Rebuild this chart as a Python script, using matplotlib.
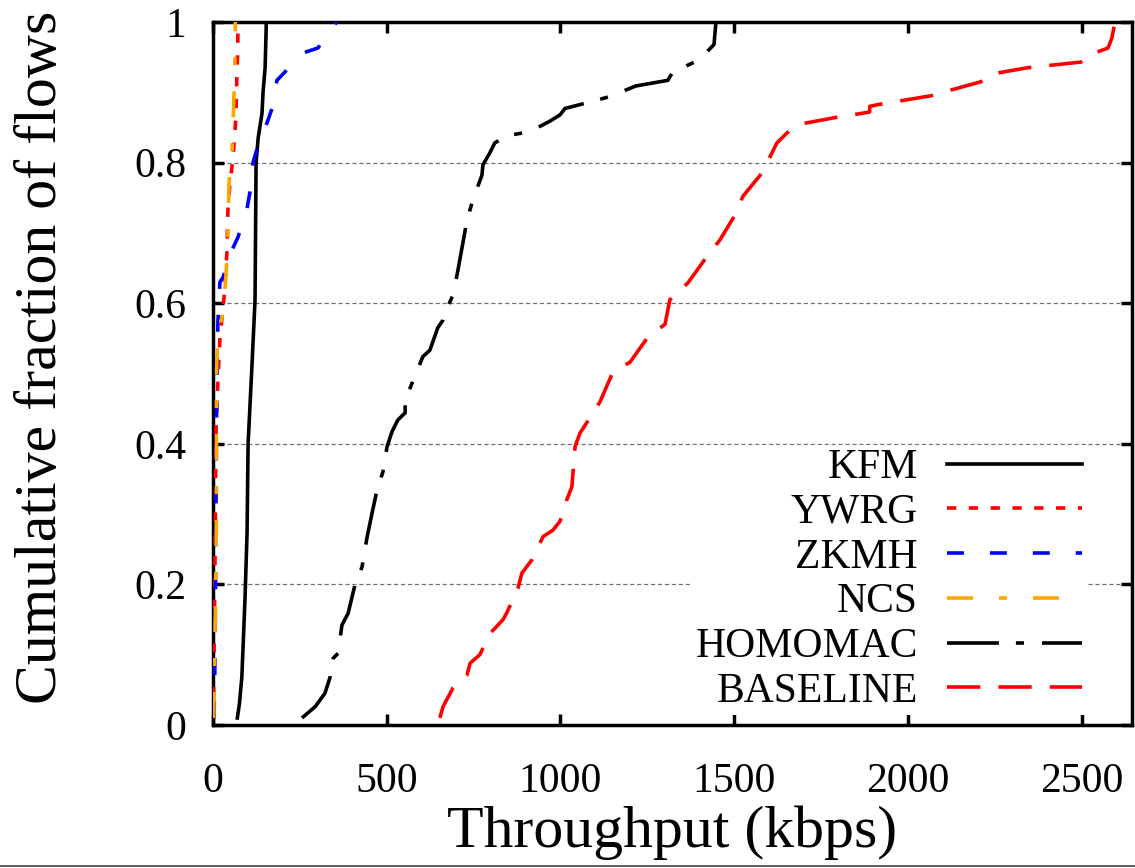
import matplotlib
matplotlib.use('Agg')
import matplotlib.pyplot as plt
from matplotlib.lines import Line2D

# CDF curves (throughput in kbps, cumulative fraction)
kfm_x = [70, 76, 83, 92, 98, 101, 112, 121, 124, 130, 141, 144, 150, 153, 153]
kfm_y = [0.01, 0.03, 0.068, 0.178, 0.273, 0.4, 0.51, 0.605, 0.8, 0.835, 0.87, 0.9, 0.935, 0.99, 1.0]

ywrg_x = [1, 3, 5, 7, 8, 10, 15, 20, 32, 35, 40, 43, 49, 58, 66, 69, 71, 72]
ywrg_y = [0.01, 0.1, 0.2, 0.3, 0.4, 0.44, 0.5, 0.55, 0.61, 0.637, 0.671, 0.733, 0.771, 0.808, 0.865, 0.93, 0.956, 1.0]

zkmh_x = [3, 6, 8, 10, 12, 14, 20, 29, 55, 72, 98, 106, 115, 127, 155, 170, 184, 213, 259, 302, 351, 355]
zkmh_y = [0.01, 0.1, 0.25, 0.43, 0.5, 0.572, 0.63, 0.637, 0.676, 0.694, 0.735, 0.757, 0.8, 0.82,
          0.856, 0.877, 0.917, 0.932, 0.956, 0.963, 0.996, 1.0]

ncs_x = [2, 5, 8, 10, 10, 14, 29, 37, 43, 46, 55, 60, 63, 64]
ncs_y = [0.01, 0.1, 0.2, 0.3, 0.5, 0.557, 0.586, 0.637, 0.69, 0.77, 0.82, 0.89, 0.94, 1.0]

homomac_x = [256, 294, 322, 337, 346, 360, 371, 389, 403, 409, 429, 443, 458, 472, 489, 501, 515,
             532, 553, 553, 576, 604, 624, 647, 662, 668, 691, 705, 731, 748, 774, 777, 797, 811,
             835, 855, 912, 970, 999, 1013, 1099, 1142, 1217, 1309, 1321, 1338, 1390, 1407, 1442,
             1447, 1448]
homomac_y = [0.01, 0.026, 0.045, 0.068, 0.095, 0.102, 0.142, 0.159, 0.188, 0.2, 0.225, 0.266, 0.302,
             0.334, 0.36, 0.396, 0.417, 0.434, 0.444, 0.462, 0.49, 0.524, 0.533, 0.565, 0.576, 0.586,
             0.612, 0.647, 0.718, 0.747, 0.782, 0.797, 0.814, 0.828, 0.835, 0.839, 0.844, 0.859,
             0.868, 0.877, 0.888, 0.894, 0.909, 0.917, 0.927, 0.932, 0.944, 0.95, 0.968, 0.997, 1.0]

baseline_x = [653, 662, 691, 731, 740, 768, 797, 835, 846, 878, 889, 918, 950, 978, 999, 1018, 1033,
              1042, 1056, 1085, 1114, 1151, 1200, 1252, 1301, 1315, 1329, 1367, 1421, 1459, 1502,
              1525, 1583, 1603, 1623, 1658, 1692, 1790, 1842, 1890, 1890, 1919, 2066, 2115, 2210,
              2253, 2345, 2498, 2538, 2576, 2587, 2596]
baseline_y = [0.01, 0.026, 0.053, 0.071, 0.088, 0.1, 0.13, 0.15, 0.16, 0.195, 0.216, 0.235, 0.268,
              0.277, 0.29, 0.32, 0.339, 0.396, 0.415, 0.437, 0.46, 0.502, 0.516, 0.552, 0.57, 0.605,
              0.611, 0.629, 0.666, 0.69, 0.725, 0.752, 0.787, 0.808, 0.828, 0.845, 0.855, 0.864,
              0.868, 0.872, 0.88, 0.883, 0.895, 0.902, 0.915, 0.927, 0.935, 0.943, 0.956, 0.963,
              0.977, 1.0]

x_ticks = [0, 500, 1000, 1500, 2000, 2500]
y_ticks = [0, 0.2, 0.4, 0.6, 0.8, 1]
y_tick_labels = ['0', '0.2', '0.4', '0.6', '0.8', '1']

plt.rcParams['font.family'] = ['Liberation Serif', 'DejaVu Serif']
plt.rcParams['lines.scale_dashes'] = False

fig = plt.figure(figsize=(11.35, 8.68), dpi=100)
ax = fig.add_axes([213 / 1135, (868 - 725) / 868, (1132 - 213) / 1135, (725 - 22) / 868])

lw = 2.6
series = [
    ('KFM', kfm_x, kfm_y, 'black', '-'),
    ('YWRG', ywrg_x, ywrg_y, '#ff0000', (0, (6.7, 9.0))),
    ('ZKMH', zkmh_x, zkmh_y, '#0000ff', (0, (12.2, 18.7))),
    ('NCS', ncs_x, ncs_y, '#ffa500', (0, (18.7, 18.7, 5.8, 18.7))),
    ('HOMOMAC', homomac_x, homomac_y, 'black', (0, (37.4, 12.2, 5.8, 13.0))),
    ('BASELINE', baseline_x, baseline_y, '#ff0000', (0, (24.0, 13.0))),
]
for name, xs, ys, color, ls in series:
    ax.plot(xs, ys, color=color, linestyle=ls, linewidth=lw, label=name, zorder=3)

# dotted horizontal grid
for gy in y_ticks[1:-1]:
    ax.axhline(gy, color='#707070', linestyle=(0, (3, 2)), linewidth=0.9, zorder=1)

ax.set_xlim(0, 2645)
ax.set_ylim(0, 1)
ax.set_xticks(x_ticks)
ax.set_xticklabels([str(t) for t in x_ticks])
ax.set_yticks(y_ticks)
ax.set_yticklabels(y_tick_labels)

for sp in ax.spines.values():
    sp.set_linewidth(2.5)
ax.tick_params(axis='both', which='major', direction='in', length=8, width=2.5,
               labelsize=30, top=True, right=True)
ax.tick_params(axis='x', pad=27)
ax.tick_params(axis='y', pad=19)

ax.set_xlabel('Throughput (kbps)', fontsize=43)
ax.xaxis.set_label_coords(0.5, -(847 - 725) / 703)
ax.xaxis.label.set_va('baseline')
ax.set_ylabel('Cumulative fraction of flows', fontsize=43)
ax.yaxis.set_label_coords(-(213 - 42) / 919, (725 - 357) / 703)
ax.yaxis.label.set_va('center')

leg = ax.legend(loc='lower right', bbox_to_anchor=(0.950, 0.014), borderaxespad=0,
                fontsize=30, markerfirst=False, handlelength=3.24, handletextpad=0.7,
                borderpad=0.1, labelspacing=0.15, frameon=True, fancybox=False)
leg.get_frame().set_facecolor('white')
leg.get_frame().set_edgecolor('none')
leg.get_frame().set_alpha(1.0)
for t in leg.get_texts():
    t.set_ha('right')
leg.set_zorder(5)

# thin border line at the bottom of the image
fig.add_artist(Line2D([0, 1], [2.5 / 868, 2.5 / 868], transform=fig.transFigure,
                      color='#404040', linewidth=1.2))

fig.savefig('out.png', dpi=100)
